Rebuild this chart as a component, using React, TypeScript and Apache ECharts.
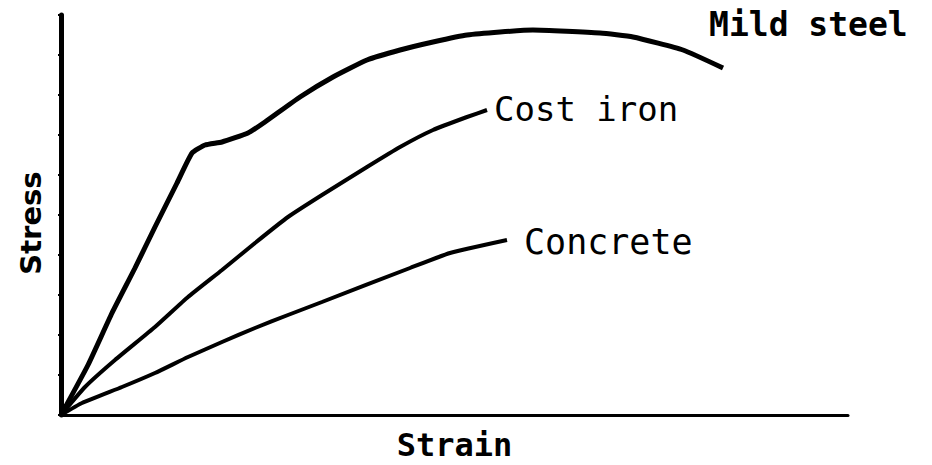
import React, { useEffect, useRef } from "react";
import * as echarts from "echarts";

// Strain (x) and stress (y) in arbitrary units, 0-100
const mildSteelStrain = [0, 3.43, 6.48, 9.4, 11.94, 14.74, 16.65, 18.3, 20.46, 23.76, 25.92, 30.37, 34.56, 38.88, 43.08, 47.27, 51.59, 59.97, 68.49, 72.68, 79.03, 84.12];
const mildSteelStress = [0, 12.5, 25.5, 36.75, 47.0, 58.0, 65.5, 67.5, 68.25, 70.5, 73.25, 79.5, 84.5, 88.75, 91.25, 93.25, 95.0, 96.25, 95.5, 94.5, 91.25, 86.75];

const castIronStrain = [0, 3.05, 6.86, 11.94, 16.14, 20.46, 24.65, 28.84, 33.16, 38.88, 43.08, 47.27, 51.59, 54.13];
const castIronStress = [0, 7.0, 13.75, 22.0, 29.5, 36.25, 43.0, 49.5, 55.0, 62.0, 67.0, 71.25, 74.5, 76.25];

const concreteStrain = [0, 2.67, 7.75, 11.94, 16.14, 20.46, 24.65, 28.84, 33.16, 44.35, 49.43, 56.67];
const concreteStress = [0, 3.0, 7.0, 10.5, 14.5, 18.25, 21.75, 25.0, 28.25, 36.75, 40.5, 43.75];

const seriesNames = ["Mild steel", "Cost iron", "Concrete"];
const xAxisName = "Strain";
const yAxisName = "Stress";

const zip = (xs: number[], ys: number[]) => xs.map((x, i) => [x, ys[i]]);

export default function App() {
  const ref = useRef<HTMLDivElement>(null);
  useEffect(() => {
    if (!ref.current) return;
    document.body.style.margin = "0";
    document.body.style.overflow = "hidden";
    const chart = echarts.init(ref.current, null, { renderer: "svg" });
    const mono = "DejaVu Sans Mono";
    const labelBase = {
      show: true,
      formatter: "{a}",
      fontFamily: mono,
      fontSize: 34,
      color: "#000",
    };
    chart.setOption({
      animation: false,
      backgroundColor: "#fff",
      grid: { left: 61, right: 84, top: 15, bottom: 50, outerBoundsMode: "none", containLabel: false },
      graphic: [
        {
          type: "text",
          x: 31,
          y: 223,
          rotation: Math.PI / 2,
          style: {
            text: yAxisName,
            fontFamily: "DejaVu Sans",
            fontWeight: "bold",
            fontSize: 29,
            fill: "#000",
            align: "center",
            verticalAlign: "middle",
          },
        },
      ],
      xAxis: {
        type: "value",
        min: 0,
        max: 100,
        name: xAxisName,
        nameLocation: "middle",
        nameGap: 30,
        nameTextStyle: {
          fontFamily: mono,
          fontWeight: "bold",
          fontSize: 32,
          color: "#000",
          verticalAlign: "middle",
        },
        axisLine: { show: true, lineStyle: { color: "#000", width: 3 } },
        axisTick: { show: false },
        axisLabel: { show: false },
        splitLine: { show: false },
      },
      yAxis: {
        type: "value",
        min: 0,
        max: 100,
        interval: 10,
        axisLine: { show: true, lineStyle: { color: "#000", width: 5 } },
        axisTick: { show: true, length: 3, lineStyle: { color: "#000", width: 2 } },
        axisLabel: { show: false },
        splitLine: { show: false },
      },
      series: [
        {
          name: seriesNames[0],
          type: "line",
          data: zip(mildSteelStrain, mildSteelStress),
          smooth: 0.15,
          symbol: "none",
          lineStyle: { color: "#000", width: 5 },
          endLabel: { ...labelBase, fontWeight: "bold", fontSize: 33, offset: [-22, -44] },
        },
        {
          name: seriesNames[1],
          type: "line",
          data: zip(castIronStrain, castIronStress),
          smooth: 0.15,
          symbol: "none",
          lineStyle: { color: "#000", width: 4 },
          endLabel: { ...labelBase, fontWeight: "normal", offset: [-1, -1] },
        },
        {
          name: seriesNames[2],
          type: "line",
          data: zip(concreteStrain, concreteStress),
          smooth: 0.15,
          symbol: "none",
          lineStyle: { color: "#000", width: 4 },
          endLabel: { ...labelBase, fontWeight: "normal", fontSize: 35, offset: [9, 2] },
        },
      ],
    });
    return () => chart.dispose();
  }, []);
  return <div ref={ref} style={{ width: 932, height: 465 }} />;
}
